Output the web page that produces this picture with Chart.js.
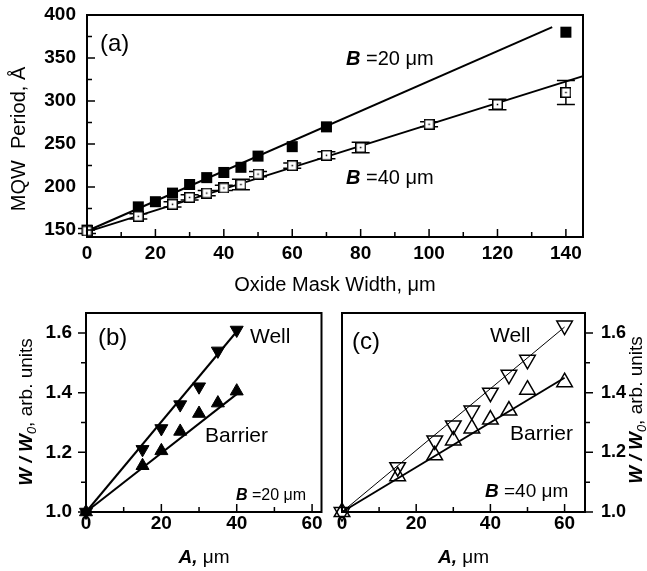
<!DOCTYPE html>
<html>
<head>
<meta charset="utf-8">
<script src="https://cdn.jsdelivr.net/npm/chart.js@4/dist/chart.umd.min.js"></script>
<style>
  html, body { margin: 0; padding: 0; background: #fff; }
  #wrap { position: relative; width: 647px; height: 571px; }
  canvas { position: absolute; }
</style>
</head>
<body>
<div id="wrap">
  <canvas id="chart-a" width="647" height="300" style="left:0;top:0;width:647px;height:300px"></canvas>
  <canvas id="chart-b" width="330" height="271" style="left:0;top:300px;width:330px;height:271px"></canvas>
  <canvas id="chart-c" width="317" height="271" style="left:330px;top:300px;width:317px;height:271px"></canvas>
</div>
<script>
const FONT = "'Liberation Sans', Arial, sans-serif";

// (a) MQW period vs oxide mask width
const aXTicks = [0, 20, 40, 60, 80, 100, 120, 140];
const aXMinor = [10, 30, 50, 70, 90, 110, 130];
const aYTicks = [150, 200, 250, 300, 350, 400];
const aYMinor = [175, 225, 275, 325, 375];
const aX20 = [0, 15, 20, 25, 30, 35, 40, 45, 50, 60, 70, 140];
const aY20 = [150, 177, 183, 193, 203, 211, 217, 223, 236, 247, 270, 380];
const aX40 = [0, 15, 25, 30, 35, 40, 45, 50, 60, 70, 80, 100, 120, 140];
const aY40 = [149, 166, 180, 188, 193, 199, 203, 215, 225, 237, 246, 273, 296, 310];
const aErr40 = [3, 3, 3, 3, 3, 3, 6, 3, 3, 4, 6, 3, 6, 14];
const aFitX20 = [0, 136];
const aFitY20 = [149, 386];
const aFitX40 = [0, 145];
const aFitY40 = [148, 329];

// (b) B = 20 um, (c) B = 40 um
const bcXTicks = [0, 20, 40, 60];
const bcXMinor = [10, 30, 50];
const bcYTicks = [1.0, 1.2, 1.4, 1.6];
const bcYMinor = [1.1, 1.3, 1.5];
const bX = [0, 15, 20, 25, 30, 35, 40];
const bWell = [1.0, 1.21, 1.28, 1.36, 1.42, 1.54, 1.61];
const bBarrier = [1.0, 1.155, 1.205, 1.27, 1.33, 1.365, 1.405];
const bFitX = [0, 40];
const bFitWell = [1.0, 1.605];
const bFitBarrier = [1.0, 1.395];
const cX = [0, 15, 25, 30, 35, 40, 45, 50, 60];
const cWell = [1.0, 1.15, 1.24, 1.29, 1.34, 1.40, 1.46, 1.51, 1.625];
const cBarrier = [1.0, 1.12, 1.19, 1.24, 1.28, 1.31, 1.34, 1.41, 1.435];
const cFitX = [0, 60];
const cFitWell = [1.0, 1.62];
const cFitBarrier = [1.0, 1.45];

const pts = (xs, ys) => xs.map((x, i) => ({ x, y: ys[i] }));
const f = (size, style = '') => `${style} ${size}px ${FONT}`.trim();

function openSquare(size) {
  const c = document.createElement('canvas');
  c.width = size; c.height = size;
  const g = c.getContext('2d');
  g.fillStyle = '#fff';
  g.fillRect(0, 0, size, size);
  g.strokeStyle = '#000';
  g.lineWidth = 1.5;
  g.strokeRect(0.75, 0.75, size - 1.5, size - 1.5);
  g.fillStyle = '#000';
  g.fillRect(size / 2 - 0.75, size / 2 - 0.75, 1.5, 1.5);
  return c;
}

// box around the plot + tick marks
function framePlugin(cfg) {
  return {
    id: 'frame',
    afterDatasetsDraw(chart) {
      const { ctx, chartArea: a } = chart;
      const x = chart.scales.x, y = chart.scales.y;
      const mark = (px, py, dx, dy) => { ctx.moveTo(px, py); ctx.lineTo(px + dx, py + dy); };
      ctx.save();
      ctx.strokeStyle = '#000';
      ctx.lineWidth = 1.5;
      ctx.beginPath();
      cfg.xMajor.forEach(v => mark(x.getPixelForValue(v), a.bottom, 0, -cfg.major));
      cfg.xMinor.forEach(v => mark(x.getPixelForValue(v), a.bottom, 0, -cfg.minor));
      const edge = cfg.ySide === 'right' ? a.right : a.left;
      const dir = (cfg.ySide === 'right' ? 1 : -1) * (cfg.yOut ? 1 : -1);
      cfg.yMajor.forEach(v => mark(edge, y.getPixelForValue(v), dir * cfg.major, 0));
      cfg.yMinor.forEach(v => mark(edge, y.getPixelForValue(v), dir * cfg.minor, 0));
      ctx.stroke();
      ctx.lineWidth = 2;
      ctx.strokeRect(a.left, a.top, a.right - a.left, a.bottom - a.top);
      ctx.restore();
    }
  };
}

// mixed-style text (italic B, subscripts, ...)
function labelPlugin(items) {
  return {
    id: 'labels',
    afterDraw(chart) {
      const ctx = chart.ctx;
      items.forEach(it => {
        ctx.save();
        ctx.translate(it.x, it.y);
        if (it.rotate) ctx.rotate(it.rotate);
        ctx.fillStyle = '#000';
        ctx.textBaseline = 'alphabetic';
        let w = 0;
        it.runs.forEach(r => { ctx.font = r.font; w += ctx.measureText(r.text).width; });
        let cx = it.align === 'center' ? -w / 2 : 0;
        it.runs.forEach(r => {
          ctx.font = r.font;
          ctx.fillText(r.text, cx, r.dy || 0);
          cx += ctx.measureText(r.text).width;
        });
        ctx.restore();
      });
    }
  };
}

function errorBarPlugin(xs, ys, err) {
  return {
    id: 'errorBars',
    beforeDatasetsDraw(chart) {
      const { ctx } = chart;
      const x = chart.scales.x, y = chart.scales.y;
      ctx.save();
      ctx.strokeStyle = '#000';
      ctx.lineWidth = 1.5;
      ctx.beginPath();
      xs.forEach((v, i) => {
        const px = x.getPixelForValue(v);
        const lo = y.getPixelForValue(ys[i] - err[i]);
        const hi = y.getPixelForValue(ys[i] + err[i]);
        ctx.moveTo(px, lo); ctx.lineTo(px, hi);
        ctx.moveTo(px - 9, lo); ctx.lineTo(px + 9, lo);
        ctx.moveTo(px - 9, hi); ctx.lineTo(px + 9, hi);
      });
      ctx.stroke();
      ctx.restore();
    }
  };
}

// fixed axis box size, no extra label padding pushed into the layout
const fixSize = (w, h) => s => {
  if (w) s.width = w;
  if (h) s.height = h;
  s.paddingTop = s.paddingBottom = s.paddingLeft = s.paddingRight = 0;
};

function scale(min, max, ticks, size, pad, extra) {
  return Object.assign({
    type: 'linear', min, max,
    afterBuildTicks: s => { s.ticks = ticks.map(value => ({ value })); },
    grid: { display: false, drawTicks: false },
    border: { display: false },
    ticks: { color: '#000', font: { family: FONT, size, weight: 'bold' }, padding: pad, maxRotation: 0, autoSkip: false }
  }, extra);
}

const lineDs = (data, width, order) => ({
  data, showLine: true, borderColor: '#000', borderWidth: width, pointRadius: 0, order, clip: false
});

const baseOptions = (padding, scales) => ({
  responsive: false,
  animation: false,
  layout: { padding },
  plugins: { legend: { display: false }, tooltip: { enabled: false } },
  scales
});

// ---- chart (a)
new Chart(document.getElementById('chart-a'), {
  type: 'scatter',
  data: {
    datasets: [
      { data: pts(aX40, aY40), pointStyle: openSquare(11), order: 1, clip: false },
      { data: pts(aX20, aY20), pointStyle: 'rect', pointRadius: 7.8, backgroundColor: '#000', borderWidth: 0, order: 2, clip: false },
      lineDs(pts(aFitX20, aFitY20), 2, 3),
      lineDs(pts(aFitX40, aFitY40), 2, 3)
    ]
  },
  options: baseOptions({ left: 0, top: 15, right: 64, bottom: 0 }, {
    x: scale(0, 145, aXTicks, 19, 5, { afterFit: fixSize(0, 63) }),
    y: scale(142, 400, aYTicks, 19, 11, { afterFit: fixSize(87, 0) })
  }),
  plugins: [
    errorBarPlugin(aX40, aY40, aErr40),
    framePlugin({ xMajor: aXTicks, xMinor: aXMinor, yMajor: aYTicks, yMinor: aYMinor, ySide: 'left', yOut: false, major: 8, minor: 5 }),
    labelPlugin([
      { x: 100, y: 51, runs: [{ text: '(a)', font: f(24) }] },
      { x: 346, y: 65, runs: [{ text: 'B', font: f(20, 'italic bold') }, { text: ' =20 μm', font: f(20) }] },
      { x: 346, y: 184, runs: [{ text: 'B', font: f(20, 'italic bold') }, { text: ' =40 μm', font: f(20) }] },
      { x: 335, y: 291, align: 'center', runs: [{ text: 'Oxide Mask Width, μm', font: f(20) }] },
      { x: 25, y: 139, rotate: -Math.PI / 2, align: 'center', runs: [{ text: 'MQW  Period, Å', font: f(20) }] }
    ])
  ]
});

const wTitle = [
  { text: 'W / W', font: f(19, 'italic bold') },
  { text: '0', font: f(13, 'italic'), dy: 4 },
  { text: ', arb. units', font: f(19) }
];
const aTitle = [{ text: 'A,', font: f(19, 'italic bold') }, { text: ' μm', font: f(19) }];
const yFmt = v => v.toFixed(1);

// ---- chart (b)
new Chart(document.getElementById('chart-b'), {
  type: 'scatter',
  data: {
    datasets: [
      { data: pts(bX, bWell), pointStyle: 'triangle', rotation: 180, pointRadius: 7.5, backgroundColor: '#000', borderColor: '#000', borderWidth: 1, order: 1, clip: false },
      { data: pts(bX, bBarrier), pointStyle: 'triangle', pointRadius: 7.5, backgroundColor: '#000', borderColor: '#000', borderWidth: 1, order: 1, clip: false },
      lineDs(pts(bFitX, bFitWell), 2, 3),
      lineDs(pts(bFitX, bFitBarrier), 2, 3)
    ]
  },
  options: baseOptions({ left: 0, top: 13, right: 8, bottom: 0 }, {
    x: scale(0, 62.5, bcXTicks, 19, 0, { afterFit: fixSize(0, 59) }),
    y: scale(1.0, 1.667, bcYTicks, 19, 14, {
      afterFit: fixSize(86, 0),
      ticks: { color: '#000', font: { family: FONT, size: 19, weight: 'bold' }, padding: 14, callback: yFmt }
    })
  }),
  plugins: [
    framePlugin({ xMajor: bcXTicks, xMinor: bcXMinor, yMajor: bcYTicks, yMinor: bcYMinor, ySide: 'left', yOut: true, major: 8, minor: 5 }),
    labelPlugin([
      { x: 98, y: 45, runs: [{ text: '(b)', font: f(24) }] },
      { x: 250, y: 43, runs: [{ text: 'Well', font: f(21) }] },
      { x: 205, y: 142, runs: [{ text: 'Barrier', font: f(21) }] },
      { x: 236, y: 200, runs: [{ text: 'B', font: f(16, 'italic bold') }, { text: ' =20 μm', font: f(16) }] },
      { x: 204, y: 263, align: 'center', runs: aTitle },
      { x: 32, y: 112, rotate: -Math.PI / 2, align: 'center', runs: wTitle }
    ])
  ]
});

// ---- chart (c)
const open = { backgroundColor: 'rgba(0,0,0,0)', borderColor: '#000', borderWidth: 1.5, pointRadius: 9, order: 1, clip: false };
new Chart(document.getElementById('chart-c'), {
  type: 'scatter',
  data: {
    datasets: [
      Object.assign({ data: pts(cX, cWell), pointStyle: 'triangle', rotation: 180 }, open),
      Object.assign({ data: pts(cX, cBarrier), pointStyle: 'triangle' }, open),
      lineDs(pts(cFitX, cFitWell), 1, 3),
      lineDs(pts(cFitX, cFitBarrier), 2, 3)
    ]
  },
  options: baseOptions({ left: 12, top: 13, right: 0, bottom: 0 }, {
    x: scale(0, 65.5, bcXTicks, 19, 0, { afterFit: fixSize(0, 59) }),
    y: scale(1.0, 1.667, bcYTicks, 18, 16, {
      position: 'right',
      afterFit: fixSize(62, 0),
      ticks: { color: '#000', font: { family: FONT, size: 18, weight: 'bold' }, padding: 16, callback: yFmt }
    })
  }),
  plugins: [
    framePlugin({ xMajor: bcXTicks, xMinor: bcXMinor, yMajor: bcYTicks, yMinor: bcYMinor, ySide: 'right', yOut: true, major: 8, minor: 5 }),
    labelPlugin([
      { x: 22, y: 49, runs: [{ text: '(c)', font: f(24) }] },
      { x: 160, y: 42, runs: [{ text: 'Well', font: f(21) }] },
      { x: 180, y: 140, runs: [{ text: 'Barrier', font: f(21) }] },
      { x: 155, y: 197, runs: [{ text: 'B', font: f(19, 'italic bold') }, { text: ' =40 μm', font: f(19) }] },
      { x: 133.5, y: 263, align: 'center', runs: aTitle },
      { x: 312, y: 110, rotate: -Math.PI / 2, align: 'center', runs: wTitle }
    ])
  ]
});
</script>
</body>
</html>
